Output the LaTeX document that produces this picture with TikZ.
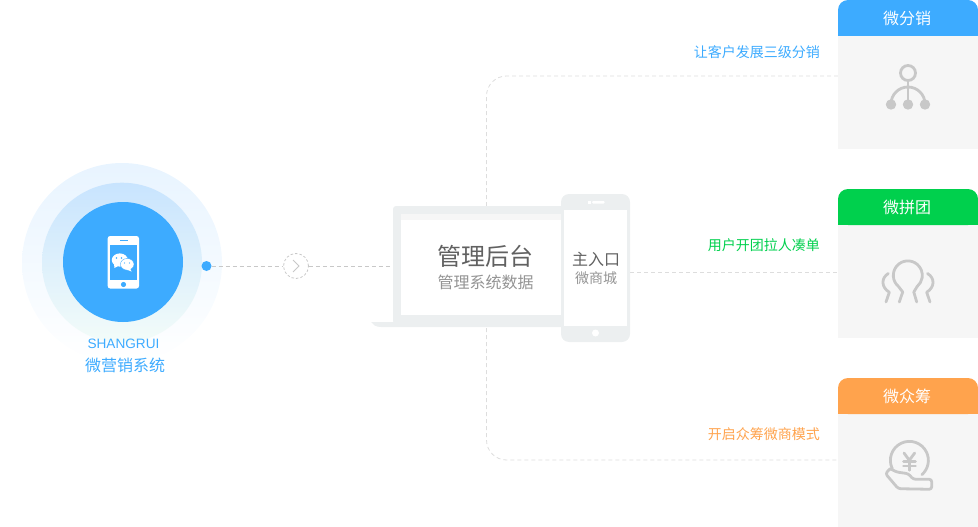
\documentclass[tikz,border=0pt]{standalone}
\usepackage{fontspec}
\setmainfont{Liberation Sans}
\newfontfamily\cjk{Noto Sans CJK SC}
\definecolor{wblue}{HTML}{3DABFF}
\definecolor{wgreen}{HTML}{00D04D}
\definecolor{worange}{HTML}{FFA34D}
\definecolor{wbody}{HTML}{F6F6F6}
\definecolor{wicon}{HTML}{C8C8C8}
\definecolor{wdevice}{HTML}{ECEFF0}
\definecolor{wroute}{HTML}{DDDDDD}
\definecolor{wouter}{HTML}{E8F4FF}
\definecolor{wmiddle}{HTML}{C8E4FE}
\definecolor{wmiddlelow}{HTML}{CDEBF5}
\definecolor{wmint}{HTML}{F3FCF9}
\tikzset{
    txt/.style={inner sep=0pt, font=\cjk\fontsize{#1}{#1}\selectfont},
    cardbody/.style={fill=wbody, minimum width=140, minimum height=113, inner sep=0pt},
    cardhead/.style={rounded corners=10, fill=#1},
    cardicon/.style={draw=wicon, line width=2.8, line cap=round, line join=round},
    routeline/.style={draw=wroute, line width=0.8, dash pattern=on 4 off 3},
    linkline/.style={draw=wicon, line width=0.8, dash pattern=on 4 off 3}
}

\begin{document}
\begin{tikzpicture}[x=1pt, y=-1pt]
  \useasboundingbox (0,0) rectangle (978,527);

  % Kreise
  \shade[top color=wouter, middle color=wouter!85, bottom color=white] (122,263) circle [radius=100];
  \shade[top color=wmiddle, middle color=wmiddlelow, bottom color=wmint] (122,262.7) circle [radius=80];
  \fill[wblue] (123,262) circle [radius=60];

  % Telefon im Kreis
  \fill[white, rounded corners=2.5] (107.7,236) rectangle (139,288.5);
  \fill[wblue] (110,245) rectangle (137.3,280);
  \fill[wblue] (123.5,284.5) circle [radius=2.6];
  \fill[wblue] (119.5,239.5) rectangle (127.5,240.7);
  \fill[white] (119.8,260) ellipse [x radius=8, y radius=6.6];
  \fill[white] (114,264) -- (114.5,268) -- (119,265.5) -- cycle;
  \filldraw[fill=white, draw=wblue, line width=0.35] (127.2,264.3) ellipse [x radius=6.8, y radius=5.8];
  \fill[white] (130,268.5) -- (131.5,271.5) -- (126.5,269.5) -- cycle;
  \foreach \ex/\ey in {116.5/258, 121.5/258} \fill[wblue] (\ex,\ey) circle [radius=0.8];
  \foreach \ex/\ey in {124.5/263, 129.5/263} \fill[wblue] (\ex,\ey) circle [radius=0.7];

  % Beschriftung links
  \node[txt=14, text=wblue, font=\fontsize{13.6}{14}\selectfont] (brand) at (123.5,344) {SHANGRUI};
  \node[txt=16, text=wblue] (system) at (125,365.5) {微营销系统};

  % Verbindung zum Laptop
  \node[circle, fill=wblue, minimum size=10, inner sep=0pt] (dot) at (206.5,266) {};
  \node[circle, draw=wicon, line width=0.8, dash pattern=on 2.5 off 2, fill=white, minimum size=25, inner sep=0pt] (nextcirc) at (296,266) {};
  \draw[wicon, line width=0.9] (293,260) -- (299,266) -- (293,272);

  % Wege zu den Karten
  \coordinate (topend) at (838,76);
  \coordinate (botend) at (838,460);
  \coordinate (midin) at (630,272);
  \coordinate (midend) at (838,272);
  \draw[routeline, rounded corners=20] (topend) -- (486.5,76) -- (486.5,460) -- (botend);
  \draw[routeline] (midin) -- (midend);

  % Laptop
  \node[fill=wdevice, rounded corners=3, minimum width=172, minimum height=118, inner sep=0pt] (laptop) at (479,265) {};
  \fill[wdevice] (371,322) -- (562,322) -- (562,327) -- (381,327) .. controls (376,327) and (373,325) .. cycle;
  \fill[white] (401,220) rectangle (562,315);
  \fill[wbody] (401,214) rectangle (562,220);
  \draw[linkline] (dot) -- (nextcirc);
  \draw[linkline] (nextcirc) -- (laptop.west |- nextcirc);
  \node[txt=24, text=black!62] (admin) at (485.5,256) {管理后台};
  \node[txt=16, text=black!42] (admindata) at (485.5,282) {管理系统数据};

  % Telefon
  \node[fill=wdevice, rounded corners=8, minimum width=69, minimum height=148, inner sep=0pt] (phone) at (595.5,268) {};
  \fill[white] (564,210) rectangle (627,326);
  \fill[white] (595.5,333) circle [radius=3.5];
  \fill[white] (588,201) rectangle (590.5,203.5);
  \fill[white, rounded corners=1] (592,201) rectangle (604.5,203.5);
  \node[txt=16, text=black!62] (entry) at (596,259) {主入口};
  \node[txt=14, text=black!42] (shop) at (596,278.5) {微商城};

  % Texte rechts
  \node[txt=14, text=wblue, anchor=east] (texta) at (820,52.5) {让客户发展三级分销};
  \node[txt=14, text=wgreen, anchor=east] (textb) at (820,245.5) {用户开团拉人凑单};
  \node[txt=14, text=worange, anchor=east] (textc) at (820,434.5) {开启众筹微商模式};

  % Karten
  \node[cardbody] (bodya) at (908,92.5) {};
  \node[cardbody] (bodyb) at (908,281.5) {};
  \node[cardbody] (bodyc) at (908,470.5) {};
  \path[cardhead=wblue] (838,36) |- (978,0) |- cycle;
  \fill[wblue] (838,20) rectangle (978,36);
  \path[cardhead=wgreen] (838,225) |- (978,189) |- cycle;
  \fill[wgreen] (838,209) rectangle (978,225);
  \path[cardhead=worange] (838,414) |- (978,378) |- cycle;
  \fill[worange] (838,398) rectangle (978,414);
  \node[txt=16, text=white] (heada) at (907,18.5) {微分销};
  \node[txt=16, text=white] (headb) at (907,207.5) {微拼团};
  \node[txt=16, text=white] (headc) at (907,396.5) {微众筹};

  % Symbol Verteilung
  \draw[cardicon] (908,73) circle [radius=7.5];
  \draw[cardicon] (908,81) -- (908,104);
  \draw[cardicon] (891,104) arc [start angle=180, end angle=360, radius=17];
  \foreach \dx in {891,908,925} \fill[wicon] (\dx,104.5) circle [radius=5.2];

  % Symbol Gruppe
  \draw[cardicon] (899.3,302) -- (902.7,292) -- (898.5,286.5) arc [start angle=130, end angle=410, radius=14.5] -- (913.8,292) -- (916.7,302);
  \draw[cardicon] (888.3,273.5) .. controls (881,278) and (881,287) .. (889.3,292.3) -- (886,302);
  \draw[cardicon] (927.5,273.5) .. controls (935,278) and (935,287) .. (926.7,292.3) -- (930,302);

  % Symbol Hand mit Muenze
  \draw[cardicon] (892.3,468.7) arc [start angle=154, end angle=409, radius=19];
  \draw[cardicon, rounded corners=2.5] (890,468.7) -- (885.5,473.7) -- (898.3,488.7) -- (931.7,489.3) -- (931.7,479.3) -- (913.3,479.3) -- (908.3,473.7) -- (896.7,472) -- (890,468.7);
  \draw[cardicon] (904,453) -- (909.3,460.3) -- (914.7,453);
  \draw[cardicon] (909.3,460.3) -- (909.3,470.3);
  \draw[cardicon] (903.5,461.5) -- (915.5,461.5);
  \draw[cardicon] (903.5,466) -- (915.5,466);

\end{tikzpicture}
\end{document}
